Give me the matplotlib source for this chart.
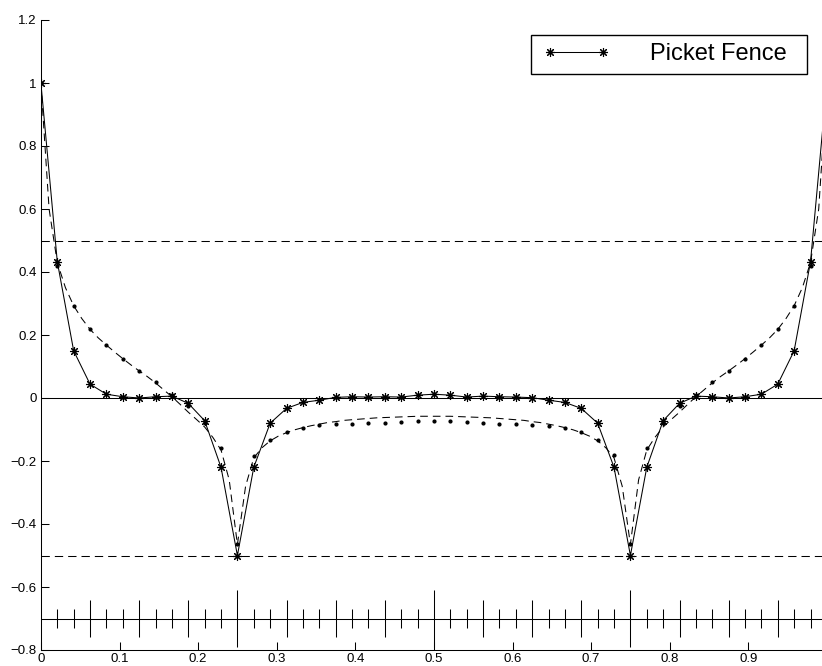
import numpy as np
import matplotlib
matplotlib.use("Agg")
import matplotlib.pyplot as plt
from matplotlib.patches import Rectangle

plt.rcParams['font.family'] = ['Liberation Sans', 'DejaVu Sans']
plt.rcParams['lines.scale_dashes'] = False

# Picket fence samples at x = k/48, k = 0..48
fence_vals = [1.0, 0.433, 0.150, 0.044, 0.012, 0.004, 0.000, 0.004, 0.006, -0.017,
              -0.072, -0.220, -0.500, -0.220, -0.080, -0.033, -0.014, -0.007, 0.002,
              0.004, 0.003, 0.004, 0.003, 0.009, 0.012, 0.009, 0.003, 0.006, 0.004,
              0.003, 0.001, -0.007, -0.014, -0.033, -0.080, -0.220, -0.500, -0.220,
              -0.072, -0.017, 0.006, 0.004, 0.000, 0.004, 0.012, 0.044, 0.150, 0.433, 1.0]

# Sampled comparison values (dots) at the same x positions
dot_vals = [1.0, 0.418, 0.292, 0.218, 0.169, 0.125, 0.086, 0.052, 0.011, -0.024,
            -0.078, -0.158, -0.464, -0.183, -0.133, -0.107, -0.095, -0.087, -0.084,
            -0.082, -0.080, -0.078, -0.075, -0.073, -0.072, -0.074, -0.076, -0.079,
            -0.082, -0.084, -0.086, -0.088, -0.095, -0.107, -0.133, -0.182, -0.463,
            -0.160, -0.078, -0.024, 0.011, 0.050, 0.086, 0.125, 0.169, 0.218, 0.292,
            0.418, 1.0]

# Continuous reference curve on a grid of x = i/96, i = 0..96
curve_vals = [1.0, 0.60, 0.43, 0.35, 0.293, 0.252, 0.218, 0.191, 0.168, 0.146, 0.125,
              0.105, 0.086, 0.068, 0.048, 0.026, 0.004, -0.020, -0.045, -0.068, -0.092,
              -0.125, -0.165, -0.26, -0.465, -0.28, -0.19, -0.158, -0.136, -0.121,
              -0.110, -0.101, -0.094, -0.088, -0.083, -0.078, -0.075, -0.071, -0.069,
              -0.067, -0.065, -0.063, -0.062, -0.061, -0.060, -0.059, -0.058, -0.058,
              -0.058,
              -0.058, -0.058, -0.059, -0.060, -0.061, -0.062, -0.063, -0.065, -0.067,
              -0.069, -0.071, -0.075, -0.078, -0.083, -0.088, -0.094, -0.101, -0.110,
              -0.121, -0.136, -0.158, -0.19, -0.28, -0.465, -0.26, -0.165, -0.125,
              -0.092, -0.068, -0.045, -0.020, 0.004, 0.026, 0.048, 0.068, 0.086, 0.105,
              0.125, 0.146, 0.168, 0.191, 0.218, 0.252, 0.293, 0.35, 0.43, 0.60, 1.0]

# Sampling grid drawn along y = -0.7, with tick half-heights by sample index
grid_k = np.arange(1, 48)
grid_half = [0.09 if k % 12 == 0 else (0.06 if k % 3 == 0 else 0.03) for k in grid_k]
grid_level = -0.7
bound_levels = [0.5, -0.5]

x_ticks = [0, 0.1, 0.2, 0.3, 0.4, 0.5, 0.6, 0.7, 0.8, 0.9]
x_labels = ['0', '0.1', '0.2', '0.3', '0.4', '0.5', '0.6', '0.7', '0.8', '0.9']
y_ticks = [-0.8, -0.6, -0.4, -0.2, 0, 0.2, 0.4, 0.6, 0.8, 1.0, 1.2]
y_labels = ['\u22120.8', '\u22120.6', '\u22120.4', '\u22120.2', '0', '0.2', '0.4',
            '0.6', '0.8', '1', '1.2']

x_fence = np.arange(len(fence_vals)) / 48.0
x_curve = np.arange(len(curve_vals)) / 96.0
x_grid = grid_k / 48.0

W, H = 822, 666
fig = plt.figure(figsize=(W / 100, H / 100), dpi=100)
ax = fig.add_axes([40.9 / W, 16 / H, 786 / W, 630 / H])

lw = 0.75
ax.axhline(0, color='black', lw=lw, zorder=1)
for lv in bound_levels:
    ax.axhline(lv, color='black', lw=lw, dashes=(6, 3.6), zorder=1)

ax.axhline(grid_level, color='black', lw=lw, zorder=1)
ax.vlines(x_grid, [grid_level - h for h in grid_half], [grid_level + h for h in grid_half],
          color='black', lw=lw, zorder=1)

ax.plot(x_curve, curve_vals, color='black', lw=lw, dashes=(5.5, 3.6), zorder=2)
ax.plot(x_fence, dot_vals, linestyle='none', marker='.', markersize=4,
        color='black', zorder=3)
line, = ax.plot(x_fence, fence_vals, color='black', lw=lw, marker=(8, 2, 0),
                markersize=6.5, markeredgewidth=0.8, label='Picket Fence', zorder=4)

ax.set_xlim(0, 1)
ax.set_ylim(-0.8, 1.2)
ax.set_xticks(x_ticks)
ax.set_xticklabels(x_labels)
ax.set_yticks(y_ticks)
ax.set_yticklabels(y_labels)
ax.tick_params(direction='in', length=5.5, width=lw, labelsize=9.5, pad=3)
ax.tick_params(axis='x', pad=2)
for s in ('top', 'right'):
    ax.spines[s].set_visible(False)
for s in ('left', 'bottom'):
    ax.spines[s].set_linewidth(lw)

leg = fig.legend(handles=[line], loc='center left', numpoints=2,
                 bbox_to_anchor=(543 / W, 1 - 54.4 / H), bbox_transform=fig.transFigure,
                 frameon=False, fontsize=17, handlelength=2.85, handletextpad=1.7,
                 borderpad=0, borderaxespad=0)
fig.patches.append(Rectangle((530.7 / W, 1 - 74 / H), 276 / W, 39.3 / H,
                             transform=fig.transFigure, fill=True, facecolor='white',
                             edgecolor='black', lw=1.0, zorder=0))

fig.savefig('out.png', dpi=100)
